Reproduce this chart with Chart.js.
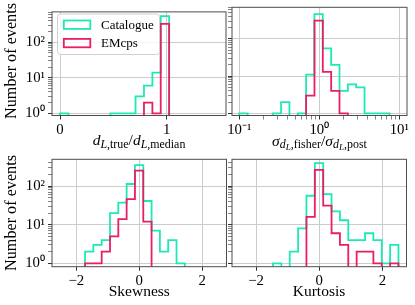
<!DOCTYPE html>
<html>
<head>
  <meta charset="utf-8">
  <title>Event histograms</title>
  <script src="https://cdn.jsdelivr.net/npm/chart.js@4.4.0/dist/chart.umd.min.js"></script>
  <style>
    body { margin: 0; background: #fff; overflow: hidden; }
    #fig { position: relative; width: 415px; height: 305px; font-family: "Liberation Serif", serif; }
    #fig canvas { position: absolute; left: 0; top: 0; }
    .lbl { position: absolute; font-size: 15.5px; line-height: 16px; white-space: nowrap; color: #000; transform: translateX(-50%); }
    .lbl sub { font-size: 0.77em; vertical-align: -0.25em; line-height: 0; }
    .ylbl { font-size: 16.2px; transform: translate(-50%, -50%) rotate(-90deg); }
  </style>
</head>
<body>
<div id="fig">
  <canvas id="c1" width="415" height="305"></canvas>
  <canvas id="c2" width="415" height="305"></canvas>
  <canvas id="c3" width="415" height="305"></canvas>
  <canvas id="c4" width="415" height="305"></canvas>

  <div class="lbl ylbl" style="left:11.3px; top:61.4px;">Number of events</div>
  <div class="lbl ylbl" style="left:11.3px; top:213px;">Number of events</div>
  <div class="lbl" style="left:139px; top:132px;"><i>d</i><sub><i>L</i>,true</sub>/<i>d</i><sub><i>L</i>,median</sub></div>
  <div class="lbl" style="left:319.5px; top:132.5px;"><i>σ</i><sub><i>d</i><sub><i>L</i></sub>,fisher</sub>/<i>σ</i><sub><i>d</i><sub><i>L</i></sub>,post</sub></div>
  <div class="lbl" style="left:139.3px; top:283.3px;">Skewness</div>
  <div class="lbl" style="left:319px; top:283.3px;">Kurtosis</div>
</div>

<script>
// ---- data (bin edges + counts) ----
var seriesNames = ['Catalogue', 'EMcps'];

// d_L,true / d_L,median
var ratioEdges = [0, 0.079, 0.157, 0.236, 0.315, 0.394, 0.472, 0.551, 0.630, 0.708, 0.787, 0.866, 0.944, 1.023];
var ratioCat   = [1, 0, 0, 0, 0, 0, 1, 1, 1, 3, 6, 14, 540];
var ratioEm    = [0, 0, 0, 0, 0, 0, 0, 0, 0, 0, 2, 1, 325];

// sigma fisher / sigma post (log bins)
var sigmaEdges = [0.1, 0.1272, 0.1617, 0.2056, 0.2616, 0.3327, 0.4231, 0.5381, 0.6843, 0.8701,
                  1.1066, 1.4075, 1.7897, 2.2763, 2.8950, 3.6813, 4.6816, 5.9540, 7.5718];
var sigmaCat   = [1, 0, 0, 0, 1, 2, 0, 1, 11, 466, 56, 20, 4, 6, 5, 1, 1, 1];
var sigmaEm    = [0, 0, 0, 0, 0, 0, 0, 0, 3, 310, 13, 4, 1, 0, 0, 0, 0, 0];

// skewness
var skewEdges = [-1.724, -1.459, -1.195, -0.930, -0.666, -0.401, -0.137, 0.128, 0.392, 0.657, 0.921, 1.186, 1.450];
var skewCat   = [2, 3, 4, 20, 37, 113, 346, 41, 7, 2, 4, 1];
var skewEm    = [1, 1, 2, 5, 14, 46, 251, 12, 0, 0, 0, 0];

// kurtosis
var kurtEdges = [-1.463, -1.198, -0.934, -0.669, -0.405, -0.140, 0.125, 0.389, 0.654, 0.918,
                 1.183, 1.448, 1.712, 1.977, 2.241, 2.506];
var kurtCat   = [1, 0, 2, 8, 56, 390, 62, 22, 13, 4, 4, 6, 4, 1, 3];
var kurtEm    = [0, 0, 0, 0, 16, 261, 31, 6, 3, 0, 2, 2, 1, 0, 1];

// tick values
var ratioTicks = [0, 1];
var sigmaTicks = [0.1, 0.2, 0.3, 0.4, 0.5, 0.6, 0.7, 0.8, 0.9, 1, 2, 3, 4, 5, 6, 7, 8, 9, 10];
var momentTicks = [-2, 0, 2];
var countTicksTop = [1, 2, 3, 4, 5, 6, 7, 8, 9, 10, 20, 30, 40, 50, 60, 70, 80, 90, 100, 200, 300, 400, 500, 600, 700];
var countTicksBottom = [1, 2, 3, 4, 5, 6, 7, 8, 9, 10, 20, 30, 40, 50, 60, 70, 80, 90, 100, 200, 300, 400];

// ---- styling ----
var CAT_COLOR = '#1de9b6';
var EM_COLOR = '#e91e63';
var FLOOR = 1e-3;   // stand-in for empty bins on the log axis (falls below the plot)
var W = 415, H = 305;
var tickFont = { family: '"Liberation Serif", serif', size: 14.8 };

function isPow10(v) {
  var e = Math.log10(v);
  return Math.abs(e - Math.round(e)) < 1e-9;
}
var SUP = { '-': '\u207B', '0': '\u2070', '1': '\u00B9', '2': '\u00B2', '3': '\u00B3' };
function pow10Label(v) {
  if (!isPow10(v)) return '';
  var e = String(Math.round(Math.log10(v)));
  return '10' + e.split('').map(function(ch) { return SUP[ch]; }).join('');
}
function plainLabel(v) {
  return v < 0 ? '\u2212' + Math.abs(v) : String(v);
}

// matplotlib style "step" outline of a histogram
function outline(edges, counts) {
  var pts = [{ x: edges[0], y: FLOOR }];
  counts.forEach(function(n, i) {
    var y = n > 0 ? n : FLOOR;
    pts.push({ x: edges[i], y: y }, { x: edges[i + 1], y: y });
  });
  pts.push({ x: edges[edges.length - 1], y: FLOOR });
  return pts;
}

var frame = {
  id: 'frame',
  afterDraw: function(chart) {
    var a = chart.chartArea, c = chart.ctx;
    c.save();
    c.strokeStyle = '#4d4d4d';
    c.lineWidth = 1;
    c.strokeRect(a.left, a.top, a.right - a.left, a.bottom - a.top);
    c.restore();
  }
};

var legendBox = {
  id: 'legendBox',
  afterDraw: function(chart) {
    var c = chart.ctx;
    c.save();
    c.beginPath();
    c.roundRect(57.5, 14, 102, 40.5, 3);
    c.fillStyle = 'rgba(255,255,255,0.8)';
    c.fill();
    c.strokeStyle = '#d0d0d0';
    c.lineWidth = 1;
    c.stroke();
    var colors = [CAT_COLOR, EM_COLOR];
    seriesNames.forEach(function(name, i) {
      var y = 20.5 + i * 18.4;
      c.strokeStyle = colors[i];
      c.lineWidth = 1.8;
      c.strokeRect(63.8, y, 26.5, 8.4);
      c.fillStyle = '#000';
      c.font = '13px "Liberation Serif", serif';
      c.textBaseline = 'middle';
      c.fillText(name, 101, y + 4.6);
    });
    c.restore();
  }
};

function makePanel(id, area, x, y, cat, em, edges, extraPlugins) {
  var gridColor = function(ctx) {
    if (!ctx.tick) return 'transparent';
    return (ctx.scale.type === 'logarithmic' && !isPow10(ctx.tick.value)) ? 'transparent' : '#cccccc';
  };
  var tickWidth = function(ctx) {
    if (!ctx.tick) return 1;
    return (ctx.scale.type === 'logarithmic' && !isPow10(ctx.tick.value)) ? 0.6 : 1;
  };
  return new Chart(document.getElementById(id), {
    type: 'line',
    data: {
      datasets: [
        { label: seriesNames[0], data: outline(edges, cat), borderColor: CAT_COLOR, borderWidth: 1.8,
          pointRadius: 0, fill: false, tension: 0, clip: 0, order: 1 },
        { label: seriesNames[1], data: outline(edges, em), borderColor: EM_COLOR, borderWidth: 1.8,
          pointRadius: 0, fill: false, tension: 0, clip: 0, order: 0 }
      ]
    },
    options: {
      responsive: false,
      animation: false,
      events: [],
      layout: { padding: { left: 0, top: area.top, right: W - area.right, bottom: 0 } },
      plugins: { legend: { display: false }, tooltip: { enabled: false } },
      scales: {
        x: {
          type: x.type, min: x.min, max: x.max,
          afterFit: function(s) { s.height = H - area.bottom; },
          afterBuildTicks: function(s) { s.ticks = x.ticks.map(function(v) { return { value: v }; }); },
          ticks: { autoSkip: false, maxRotation: 0, font: tickFont, color: '#000', padding: 2, callback: x.label },
          grid: { color: gridColor, tickColor: '#333', tickWidth: tickWidth, tickLength: 4, lineWidth: 1 },
          border: { display: false }
        },
        y: {
          type: 'logarithmic', min: y.min, max: y.max,
          afterFit: function(s) { s.width = area.left; },
          afterBuildTicks: function(s) { s.ticks = y.ticks.map(function(v) { return { value: v }; }); },
          ticks: { display: y.labels, autoSkip: false, font: tickFont, color: '#000', padding: 3, callback: pow10Label },
          grid: { color: gridColor, tickColor: '#333', tickWidth: tickWidth, tickLength: 4, lineWidth: 1 },
          border: { display: false }
        }
      }
    },
    plugins: [frame].concat(extraPlugins || [])
  });
}

var yTop = { min: 0.873, max: 709, ticks: countTicksTop };
var yBottom = { min: 0.817, max: 492, ticks: countTicksBottom };

makePanel('c1', { left: 52, top: 7.3, right: 226, bottom: 115.5 },
  { type: 'linear', min: -0.075, max: 1.556, ticks: ratioTicks, label: plainLabel },
  Object.assign({ labels: true }, yTop), ratioCat, ratioEm, ratioEdges, [legendBox]);

makePanel('c2', { left: 232, top: 7.3, right: 407, bottom: 115.5 },
  { type: 'logarithmic', min: 0.081, max: 12.5, ticks: sigmaTicks, label: pow10Label },
  Object.assign({ labels: false }, yTop), sigmaCat, sigmaEm, sigmaEdges);

makePanel('c3', { left: 52, top: 159.3, right: 226.5, bottom: 266.7 },
  { type: 'linear', min: -2.775, max: 2.775, ticks: momentTicks, label: plainLabel },
  Object.assign({ labels: true }, yBottom), skewCat, skewEm, skewEdges);

makePanel('c4', { left: 232, top: 159.3, right: 406.5, bottom: 266.7 },
  { type: 'linear', min: -2.76, max: 2.76, ticks: momentTicks, label: plainLabel },
  Object.assign({ labels: false }, yBottom), kurtCat, kurtEm, kurtEdges);
</script>
</body>
</html>
